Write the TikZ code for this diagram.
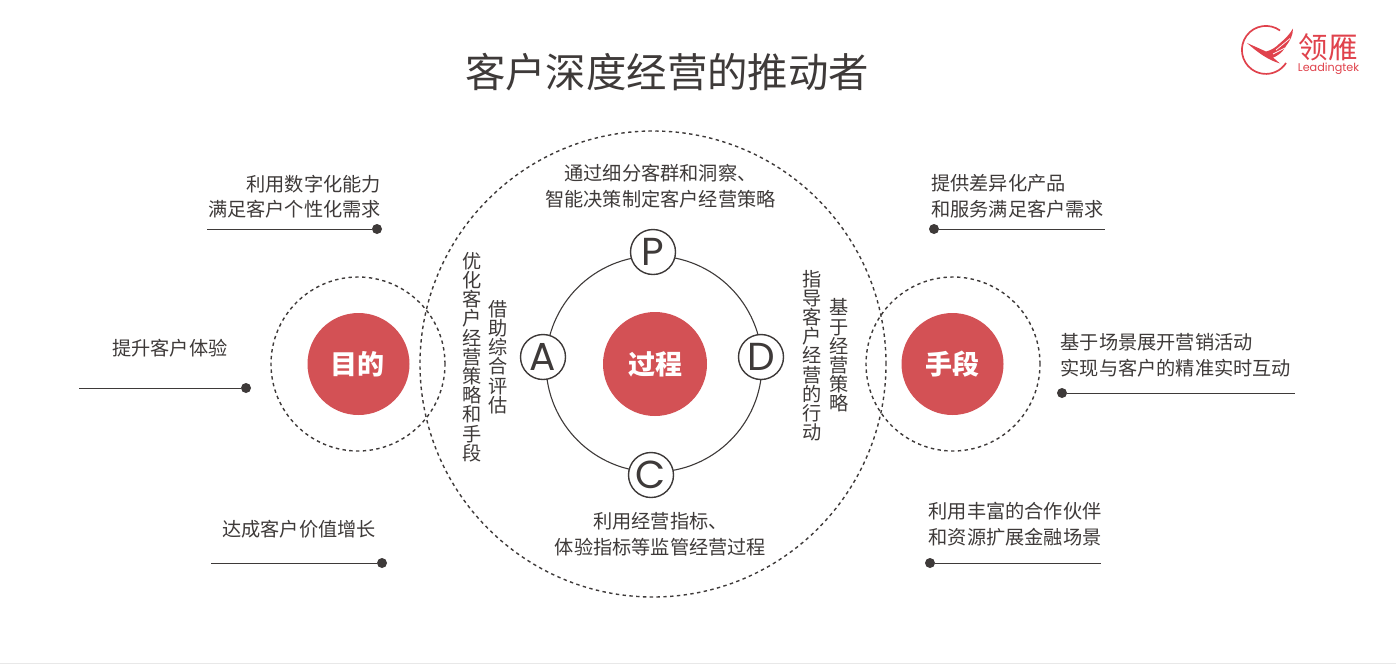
\documentclass[tikz,border=0pt]{standalone}
\usepackage{fontspec}
\setmainfont{Noto Sans CJK SC}
\newfontfamily\latinf{Poppins}
\usetikzlibrary{calc}
\definecolor{ink}{HTML}{3E3A39}
\definecolor{rd}{HTML}{D35155}
\definecolor{logo}{HTML}{E0424C}
\newcommand{\fs}{\fontsize{19.2}{25.6}\selectfont}
\newcommand{\vs}{\fontsize{19.2}{19.2}\selectfont}
\tikzset{
 x=1pt,y=-1pt,
 txt/.style={inner sep=0pt,text=ink,font=\fs,anchor=west,align=left},
 txtr/.style={inner sep=0pt,text=ink,font=\fs,anchor=east,align=right},
 txtc/.style={inner sep=0pt,text=ink,font=\fs,align=center},
 vtxt/.style={inner sep=0pt,text=ink,font=\vs,align=center},
 redc/.style={circle,fill=rd,minimum size=102pt,inner sep=0pt,text=white,font=\fontsize{27}{27}\selectfont\bfseries},
 dashc/.style={circle,draw=ink,line width=1.4pt,dash pattern=on 3.4pt off 3.4pt,inner sep=0pt},
 lett/.style={circle,draw=ink,line width=1.4pt,fill=white,minimum size=45pt,inner sep=0pt,text=ink,font=\latinf\fontsize{39}{39}\selectfont},
 dotn/.style={circle,fill=ink,minimum size=10pt,inner sep=0pt},
 ln/.style={draw=ink,line width=1pt},
}
\begin{document}
\begin{tikzpicture}
\useasboundingbox (0,0) rectangle (1396,664);
\fill[white] (0,0) rectangle (1396,664);
\fill[black!9] (0,662.5) rectangle (1396,664);
% title
\node[inner sep=0pt,text=ink,font=\fontsize{40.4}{40.4}\selectfont] (title) at (667,72) {客户深度经营的推动者};
% dashed circles
\node[dashc,minimum size=466pt] (big) at (653,364) {};
\node[dashc,minimum size=174pt] (lc) at (358,364) {};
\node[dashc,minimum size=174pt] (rc) at (953,364) {};
% ring
\node[circle,draw=ink,line width=1.1pt,minimum size=216pt,inner sep=0pt] (ring) at (654,364) {};
\node[redc] (goal) at (358.5,364) {\hspace*{-3pt}目的};
\node[redc,minimum size=104pt] (proc) at (655,364) {过程};
\node[redc] (mean) at (952.5,364) {手段};
\node[lett] (P) at (653,252) {P};
\node[lett] (A) at (543,357) {A};
\node[lett] (D) at (761,357) {D};
\node[lett] (C) at (651,475) {C};
% left items
\node[txtr] (l1) at (381,196.5) {利用数字化能力\\满足客户个性化需求};
\node[dotn] (d1) at (377,229) {};
\coordinate (e1) at (207,229);
\draw[ln] (e1) -- (d1);
\node[txt] (l2) at (112,348) {提升客户体验};
\node[dotn] (d2) at (246,388) {};
\coordinate (e2) at (79,388);
\draw[ln] (e2) -- (d2);
\node[txt] (l3) at (222,529) {达成客户价值增长};
\node[dotn] (d3) at (382,563) {};
\coordinate (e3) at (211,563);
\draw[ln] (e3) -- (d3);
% right items
\node[txt] (r1) at (931,196.5) {提供差异化产品\\和服务满足客户需求};
\node[dotn] (d4) at (934,229) {};
\coordinate (e4) at (1105,229);
\draw[ln] (d4) -- (e4);
\node[txt] (r2) at (1060.5,355) {基于场景展开营销活动\\实现与客户的精准实时互动};
\node[dotn] (d5) at (1062,393) {};
\coordinate (e5) at (1295,393);
\draw[ln] (d5) -- (e5);
\node[txt] (r3) at (928.5,524) {利用丰富的合作伙伴\\和资源扩展金融场景};
\node[dotn] (d6) at (930,563) {};
\coordinate (e6) at (1101,563);
\draw[ln] (d6) -- (e6);
% centre texts
\node[txtc] (t1) at (660.5,186) {通过细分客群和洞察、\\智能决策制定客户经营策略};
\node[txtc] (t2) at (660.5,534) {利用经营指标、\\体验指标等监管经营过程};
% vertical texts
\node[vtxt] (v1) at (472,357) {优\\化\\客\\户\\经\\营\\策\\略\\和\\手\\段};
\node[vtxt] (v2) at (498,357) {借\\助\\综\\合\\评\\估};
\node[vtxt] (v3) at (812,355.5) {指\\导\\客\\户\\经\\营\\的\\行\\动};
\node[vtxt] (v4) at (839,355.5) {基\\于\\经\\营\\策\\略};
% logo
\draw[logo,line width=1.7pt] (1280,30.5) arc[start angle=-54,end angle=-327,radius=24];
\fill[logo] (1247,43) -- (1266,51.5)
  .. controls (1272,50) and (1276,47) .. (1279,44)
  .. controls (1285,39) and (1290,34) .. (1293,28.5)
  .. controls (1293,35) and (1290,41) .. (1286,46)
  .. controls (1284,50) and (1281,53) .. (1278,55)
  .. controls (1276,56.5) and (1274.5,57) .. (1273,57.5)
  -- (1280,63.5)
  .. controls (1268,60) and (1257,52) .. (1247,43) -- cycle;
\draw[white,line width=0.7pt] (1276,50) -- (1290,38.5);
\draw[white,line width=0.7pt] (1273,54) -- (1285,48);
\node[inner sep=0pt,text=logo,font=\fontsize{29.5}{29.5}\selectfont] (brand) at (1328,47) {领雁};
\node[inner sep=0pt,text=logo,font=\latinf\fontsize{11.2}{11.2}\selectfont] (brand2) at (1328.5,68.5) {Leadingtek};
\end{tikzpicture}
\end{document}
